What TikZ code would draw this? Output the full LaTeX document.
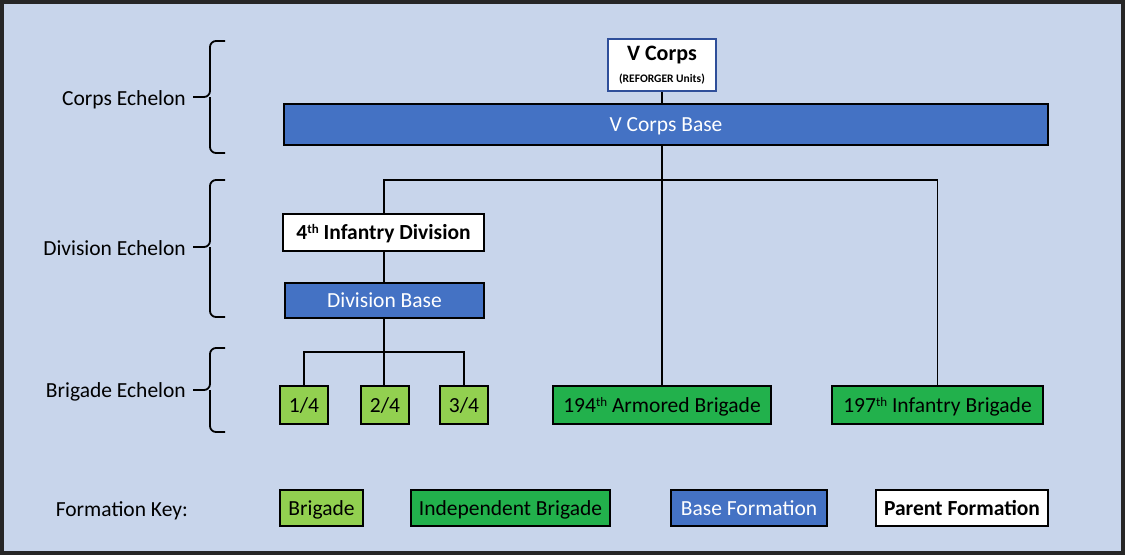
\documentclass[tikz,border=0pt]{standalone}
\usepackage{fontspec}
\setmainfont{Carlito}
\begin{document}
\begin{tikzpicture}[x=1pt,y=-1pt,
  frame/.style={draw=black,line width=1.8pt,inner sep=0pt},
  box/.style={frame,font=\fontsize{21.5}{24}\selectfont,text height=14pt,text depth=0pt},
  parent/.style={box,fill=white,font=\fontsize{21.5}{24}\selectfont\bfseries},
  base/.style={box,fill=basefill,text=white},
  brig/.style={box,fill=brigfill},
  indep/.style={box,fill=indepfill},
  conn/.style={line width=1.8pt,black},
  lbl/.style={font=\fontsize{21.5}{24}\selectfont,anchor=east,inner sep=0pt,text height=14pt,text depth=0pt},
  brace/.style={line width=1.8pt,black,rounded corners=6pt}]
\definecolor{bgcol}{HTML}{C8D5EB}
\definecolor{basefill}{HTML}{4472C4}
\definecolor{brigfill}{HTML}{92D050}
\definecolor{indepfill}{HTML}{22B14C}
\definecolor{corpsborder}{HTML}{2F4F9A}
\newcommand{\sth}{\raisebox{0.55ex}{\fontsize{13}{13}\selectfont th}}
\useasboundingbox (0,0) rectangle (1125,555);
\draw[line width=4pt,draw=black!85,fill=bgcol] (2,2) rectangle (1123,553);

% nodes
\node[frame,fill=white,draw=corpsborder,minimum width=108,minimum height=52,align=center] (vc) at (662,65)
  {\fontsize{22}{22}\selectfont\bfseries V Corps\\[10pt]\fontsize{11.5}{12}\selectfont\bfseries (REFORGER Units)};
\node[base,minimum width=764,minimum height=41] (vcb) at (666,124.5) {V Corps Base};
\node[parent,minimum width=201,minimum height=37] (id) at (383.5,232.5) {4\sth\ Infantry Division};
\node[base,minimum width=199,minimum height=35] (db) at (384.5,300.5) {Division Base};
\node[brig,minimum width=48,minimum height=38] (b1) at (304,405) {1/4};
\node[brig,minimum width=48,minimum height=38] (b2) at (385,405) {2/4};
\node[brig,minimum width=48,minimum height=38] (b3) at (464,405) {3/4};
\node[indep,minimum width=218,minimum height=38] (ab) at (662,405) {194\sth\ Armored Brigade};
\node[indep,minimum width=211,minimum height=38] (ib) at (937.5,405) {197\sth\ Infantry Brigade};

% connectors
\coordinate (j1) at (662,180);
\coordinate (j2) at (384,352);
\draw[conn] (vc.south) -- (vcb.north -| vc.south);
\draw[conn] (vcb.south -| vc.south) -- (j1);
\draw[conn] (j1) -- (ab.north -| j1);
\draw[conn] (j1) -| (id.north -| 384,0);
\draw[conn] (j1) -| (ib.north);
\draw[conn] (id.south -| 384,0) -- (db.north -| 384,0);
\draw[conn] (db.south -| j2) -- (j2);
\draw[conn] (j2) -| (b1.north);
\draw[conn] (j2) -| (b3.north);
\draw[conn] (j2) -- (b2.north -| j2);

% echelon labels and braces
\node[lbl] (l1) at (186,98) {Corps Echelon};
\node[lbl] (l2) at (186,248) {Division Echelon};
\node[lbl] (l3) at (186,390) {Brigade Echelon};
\draw[brace] (225,41) -- (210,41) -- (210,97) -- (202,97);
\draw[brace] (225,153) -- (210,153) -- (210,97);
\draw[conn] (193,97) -- (204,97);
\draw[brace] (225,180) -- (210,180) -- (210,247) -- (202,247);
\draw[brace] (225,317) -- (210,317) -- (210,247);
\draw[conn] (193,247) -- (204,247);
\draw[brace] (225,348) -- (210,348) -- (210,390) -- (202,390);
\draw[brace] (225,432) -- (210,432) -- (210,390);
\draw[conn] (193,390) -- (204,390);

% key
\node[lbl] (fk) at (188,509) {Formation Key:};
\node[brig,minimum width=83,minimum height=36] (k1) at (321.5,508) {Brigade};
\node[indep,minimum width=199,minimum height=36] (k2) at (510.5,508) {Independent Brigade};
\node[base,minimum width=156,minimum height=36] (k3) at (749,508) {Base Formation};
\node[parent,minimum width=172,minimum height=36] (k4) at (962,508) {Parent Formation};
\end{tikzpicture}
\end{document}
